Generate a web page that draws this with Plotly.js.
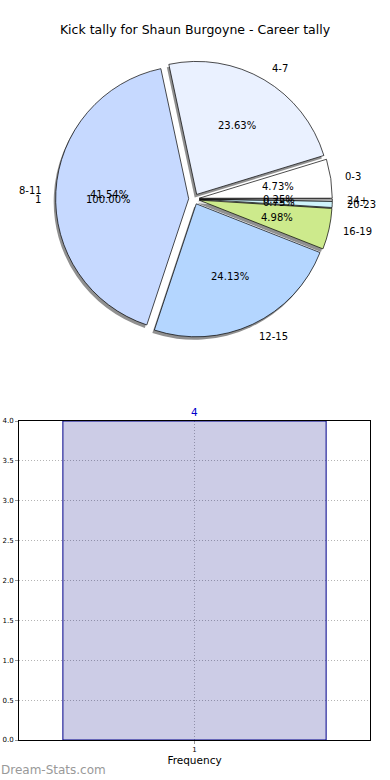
<!DOCTYPE html>
<html><head><meta charset="utf-8">
<script src="https://cdn.plot.ly/plotly-3.0.1.min.js"></script>
<style>html,body{margin:0;padding:0;background:#fff}#chart{width:390px;height:780px}</style>
</head><body><div id="chart"></div>
<script>
// ---- data ----
const sliceLabels = ['0-3', '4-7', '8-11', '12-15', '16-19', '20-23', '24+'];
const sliceCounts = [19, 95, 167, 97, 20, 3, 1];
const sliceColors = ['#ffffff', '#eaf1ff', '#c6d9ff', '#b4d6ff', '#cdea8c', '#cff3fb', '#ffffff'];
const overlayLabels = ['1'];
const overlayValues = [1];
const barCategories = [1];
const barValues = [4];
const yTickVals = [0, 0.5, 1, 1.5, 2, 2.5, 3, 3.5, 4];

// ---- geometry ----
const W = 390, H = 780;
const pcx = 194, pcy = 199, pr = 133, pullFrac = 0.04;
const box = 2 * pr * (1 + pullFrac);
function dom(cx, cy) {
  return {x: [(cx - box / 2) / W, (cx + box / 2) / W], y: [1 - (cy + box / 2) / H, 1 - (cy - box / 2) / H]};
}
const total = sliceCounts.reduce((a, b) => a + b, 0);
const rot = 90 - 360 * sliceCounts[0] / total;

const shadow = {
  type: 'pie', values: sliceCounts, labels: sliceLabels, sort: false, direction: 'counterclockwise',
  rotation: rot, pull: sliceCounts.map(() => pullFrac), domain: dom(pcx - 2, pcy + 3),
  marker: {colors: sliceCounts.map(() => 'rgba(70,70,70,0.6)'), line: {width: 0}},
  textinfo: 'none', hoverinfo: 'skip', showlegend: false
};
const pie = {
  type: 'pie', values: sliceCounts, labels: sliceLabels, sort: false, direction: 'counterclockwise',
  rotation: rot, pull: sliceCounts.map(() => pullFrac), domain: dom(pcx, pcy),
  marker: {colors: sliceColors, line: {color: '#000', width: 0.7}},
  textinfo: 'none', hoverinfo: 'skip', showlegend: false
};
const bar = {
  type: 'bar', x: barCategories, y: barValues, width: 0.75, xaxis: 'x', yaxis: 'y',
  marker: {color: 'rgba(0,0,128,0.2)', line: {color: '#00008b', width: 1}},
  text: barValues.map(String), textposition: 'outside', cliponaxis: false,
  textfont: {color: '#0000cc', size: 10.5, family: 'DejaVu Sans'}, hoverinfo: 'skip', showlegend: false
};

// ---- text labels (matplotlib-style placement) ----
const anns = [];
function txt(px, py, text, xa, size, color) {
  return {x: px / W, y: 1 - py / H, xref: 'paper', yref: 'paper', xanchor: xa, yanchor: 'middle',
    text: text, showarrow: false, borderpad: 0, font: {size: size || 10, color: color || '#000', family: 'DejaVu Sans'}};
}
function addLabels(vals, labs) {
  const tot = vals.reduce((a, b) => a + b, 0);
  const d = pullFrac * pr;
  let cum = 0;
  vals.forEach((v, i) => {
    const th = (cum + v / 2) / tot * 2 * Math.PI; cum += v;
    const c = Math.cos(th), s = Math.sin(th);
    const ex = pcx + d * c, ey = pcy - d * s;
    anns.push(txt(ex + 1.1 * pr * c, ey - 1.1 * pr * s, labs[i], c > 0 ? 'left' : 'right'));
    anns.push(txt(ex + 0.6 * pr * c, ey - 0.6 * pr * s, (100 * v / tot).toFixed(2) + '%', 'center'));
  });
}
addLabels(sliceCounts, sliceLabels);
addLabels(overlayValues, overlayLabels);
anns.push(txt(0, 770, 'Dream-Stats.com', 'left', 12, '#999999'));

const gridStyle = {showgrid: true, gridcolor: '#b4b4b4', griddash: '1px,2px', gridwidth: 1, zeroline: false,
  showline: true, linecolor: '#000', linewidth: 1, mirror: true,
  ticks: 'outside', ticklen: 3, tickcolor: '#999', tickfont: {size: 7}, fixedrange: true};

const layout = {
  width: W, height: H, margin: {l: 0, r: 0, t: 0, b: 0},
  paper_bgcolor: '#fff', plot_bgcolor: 'rgba(0,0,0,0)', showlegend: false,
  font: {family: 'DejaVu Sans', color: '#000'},
  title: {text: 'Kick tally for Shaun Burgoyne - Career tally', font: {size: 12.5, color: '#000'},
    x: 0.5, xanchor: 'center', y: 1 - 30 / H, yanchor: 'middle'},
  xaxis: Object.assign({}, gridStyle, {domain: [19 / W, 370 / W], range: [0.5, 1.5], tickvals: barCategories,
    ticktext: barCategories.map(String), title: {text: 'Frequency', font: {size: 10.5}, standoff: 3}}),
  yaxis: Object.assign({}, gridStyle, {domain: [40 / H, 359 / H], range: [0, 4], tickvals: yTickVals, tickformat: '.1f'}),
  annotations: anns
};
Plotly.newPlot('chart', [shadow, pie, bar], layout, {displayModeBar: false, staticPlot: true});
</script>
</body></html>
